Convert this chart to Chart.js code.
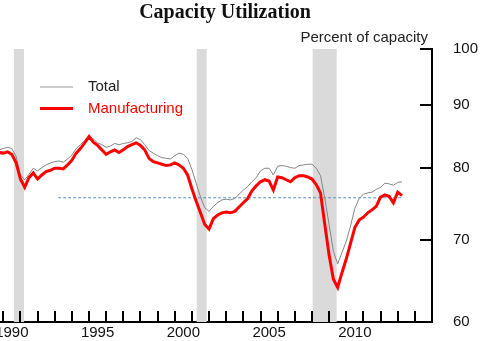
<!DOCTYPE html>
<html>
<head>
<meta charset="utf-8">
<script src="https://cdn.jsdelivr.net/npm/chart.js@4.4.1/dist/chart.umd.min.js"></script>
<style>
  html, body { margin: 0; padding: 0; background: #fff; }
</style>
</head>
<body>
<canvas id="cu" width="480" height="341"></canvas>
<script>
// one reading per quarter, starting at 1989.75
const quarterStart = 1989.75;

const total = [
  82.8, 83.0, 83.2, 83.0, 81.8, 79.0, 78.3, 79.1, 80.0, 79.6,
  80.1, 80.5, 80.8, 81.0, 81.1, 80.9, 81.4, 82.0, 83.0, 83.6,
  84.3, 85.0, 84.5, 83.9, 83.6, 83.2, 83.4, 83.8, 83.6, 83.8,
  83.9, 84.1, 84.7, 84.4, 83.6, 82.7, 82.3, 81.9, 81.6, 81.5,
  81.4, 81.9, 82.3, 82.1, 81.5, 79.8, 77.8, 75.8, 74.3, 73.8,
  74.5, 75.0, 75.4, 75.5, 75.4, 75.6, 76.2, 76.8, 77.3, 78.0,
  78.6, 79.6, 80.0, 80.0, 79.0, 80.3, 80.4, 80.3, 80.1, 80.0,
  80.4, 80.5, 80.6, 80.6, 80.0, 78.9, 75.6, 72.0, 68.5, 66.9,
  68.3, 69.8, 71.8, 74.2, 75.6, 76.2, 76.4, 76.5, 76.9, 77.2,
  77.8, 77.7, 77.5, 77.9, 78.0
];

const manufacturing = [
  82.4, 82.3, 82.5, 82.1, 80.8, 78.4, 77.2, 78.6, 79.3, 78.4,
  79.0, 79.5, 79.7, 80.0, 80.0, 79.9, 80.5, 81.2, 82.3, 83.0,
  83.9, 84.9, 84.0, 83.5, 82.8, 82.1, 82.5, 82.8, 82.4, 82.8,
  83.3, 83.6, 83.9, 83.5, 82.8, 81.5, 81.0, 80.8, 80.6, 80.4,
  80.5, 80.8, 80.5, 80.0, 79.0, 77.0, 75.2, 73.6, 72.0, 71.4,
  72.8, 73.3, 73.6, 73.7, 73.6, 73.8, 74.4, 75.0, 75.6, 76.7,
  77.4, 78.0, 78.3, 78.1, 76.8, 78.7, 78.6, 78.3, 78.0, 78.6,
  78.9, 78.9, 78.7, 78.4, 77.6, 76.4, 72.0, 68.0, 65.0, 64.0,
  65.8, 67.5, 69.5, 71.6, 72.6, 73.0, 73.6, 74.0, 74.5, 75.8,
  76.1, 75.9, 75.0, 76.5, 76.0
];

const recessionStart = [1990.62, 2001.28, 2008.04];
const recessionEnd = [1991.21, 2001.86, 2009.44];

const dashedYears = [1993.2, 2013.33];
const dashedValue = 75.7;

const yearTicks = [1990, 1991, 1992, 1993, 1994, 1995, 1996, 1997, 1998, 1999,
  2000, 2001, 2002, 2003, 2004, 2005, 2006, 2007, 2008, 2009,
  2010, 2011, 2012, 2013, 2014];
const yTicks = [60, 70, 80, 90, 100];

const quarters = total.map((_, i) => quarterStart + i / 4);
const toPoints = arr => arr.map((v, i) => ({ x: quarters[i], y: v }));

const sansFont = '"Liberation Sans", Arial, sans-serif';

// grey recession bars behind the lines
const recessionBands = {
  id: 'recessionBands',
  beforeDatasetsDraw(chart) {
    const { ctx, chartArea, scales } = chart;
    ctx.save();
    ctx.fillStyle = '#dadada';
    recessionStart.forEach((s, i) => {
      const x1 = scales.x.getPixelForValue(s);
      const x2 = scales.x.getPixelForValue(recessionEnd[i]);
      ctx.fillRect(x1, chartArea.top, x2 - x1, chartArea.bottom - chartArea.top);
    });
    ctx.restore();
  }
};

// year tick marks, title, unit note and the legend
const overlay = {
  id: 'overlay',
  afterDraw(chart) {
    const { ctx, chartArea, scales } = chart;
    ctx.save();
    ctx.strokeStyle = '#000';
    ctx.lineWidth = 2;
    ctx.beginPath();
    yearTicks.forEach(v => {
      const x = Math.round(scales.x.getPixelForValue(v));
      ctx.moveTo(x, chartArea.bottom);
      ctx.lineTo(x, chartArea.bottom - 11);
    });
    ctx.stroke();

    ctx.fillStyle = '#111';
    ctx.font = 'bold 20px "Liberation Serif", "Times New Roman", serif';
    ctx.textAlign = 'center';
    ctx.textBaseline = 'alphabetic';
    ctx.fillText('Capacity Utilization', 225, 18);

    ctx.font = '15px ' + sansFont;
    ctx.textAlign = 'right';
    ctx.fillStyle = '#222';
    ctx.fillText('Percent of capacity', 428, 42);

    ctx.textAlign = 'left';
    ctx.textBaseline = 'middle';
    ctx.strokeStyle = '#999';
    ctx.lineWidth = 1.2;
    ctx.beginPath();
    ctx.moveTo(40, 87);
    ctx.lineTo(73, 87);
    ctx.stroke();
    ctx.fillStyle = '#222';
    ctx.fillText('Total', 88, 87);

    ctx.strokeStyle = '#ff0000';
    ctx.lineWidth = 3;
    ctx.beginPath();
    ctx.moveTo(40, 108.5);
    ctx.lineTo(73, 108.5);
    ctx.stroke();
    ctx.fillStyle = '#ff0000';
    ctx.fillText('Manufacturing', 88, 108.5);
    ctx.restore();
  }
};

new Chart(document.getElementById('cu'), {
  type: 'line',
  data: {
    datasets: [
      {
        label: 'Manufacturing',
        data: toPoints(manufacturing),
        borderColor: '#ff0000',
        borderWidth: 3,
        pointRadius: 0,
        order: 0
      },
      {
        label: 'Total',
        data: toPoints(total),
        borderColor: '#858585',
        borderWidth: 1,
        pointRadius: 0,
        order: 1
      },
      {
        label: 'Average',
        data: dashedYears.map(y => ({ x: y, y: dashedValue })),
        borderColor: '#5b8fc9',
        borderWidth: 1,
        borderDash: [3, 2],
        pointRadius: 0,
        order: 2
      }
    ]
  },
  options: {
    responsive: false,
    animation: false,
    layout: { autoPadding: false, padding: { top: 49, left: 0, right: 0, bottom: 0 } },
    plugins: {
      legend: { display: false },
      tooltip: { enabled: false },
      title: { display: false }
    },
    scales: {
      x: {
        type: 'linear',
        min: 1989.81,
        max: 2015,
        afterBuildTicks: s => { s.ticks = yearTicks.map(v => ({ value: v })); },
        afterFit: s => { s.height = 19; s.paddingLeft = 0; s.paddingRight = 0; },
        grid: { drawOnChartArea: false, drawTicks: false },
        border: { display: true, color: '#000', width: 2 },
        ticks: {
          autoSkip: false,
          maxRotation: 0,
          padding: 2,
          labelOffset: 8.57,
          color: '#111',
          font: { family: sansFont, size: 15 },
          callback: v => (v % 5 === 0 ? String(v) : '')
        }
      },
      y: {
        type: 'logarithmic',
        position: 'right',
        min: 60,
        max: 100,
        afterBuildTicks: s => { s.ticks = yTicks.map(v => ({ value: v })); },
        afterFit: s => { s.width = 48; s.paddingTop = 0; s.paddingBottom = 0; },
        grid: { drawOnChartArea: false, drawTicks: true, tickLength: -12, color: '#000', lineWidth: 2 },
        border: { display: true, color: '#000', width: 2 },
        ticks: {
          padding: 33,
          color: '#111',
          font: { family: sansFont, size: 15 },
          callback: v => String(v)
        }
      }
    }
  },
  plugins: [recessionBands, overlay]
});
</script>
</body>
</html>
